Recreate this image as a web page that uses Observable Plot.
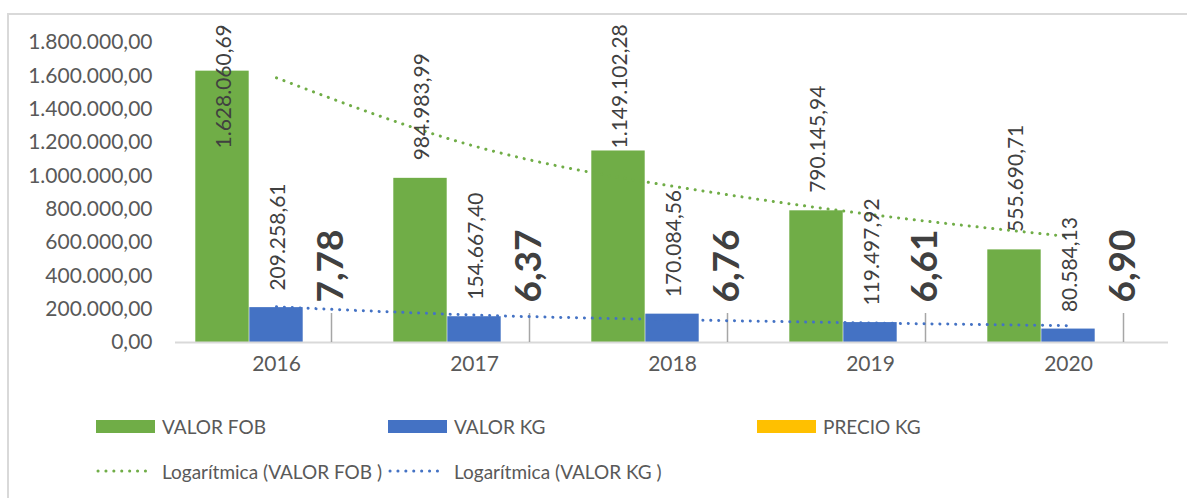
<!DOCTYPE html>
<html>
<head>
<meta charset="utf-8">
<script src="https://cdn.jsdelivr.net/npm/d3@7"></script>
<script src="https://cdn.jsdelivr.net/npm/@observablehq/plot@0.6"></script>
<style>
  html, body { margin: 0; padding: 0; background: #fff; }
  #wrap { position: relative; width: 1187px; height: 498px; overflow: hidden; font-family: Lato, "Open Sans", sans-serif; color: #595959; }
  #frame { position: absolute; left: 7px; top: 13px; width: 1300px; height: 600px; border: 2px solid #D9D9D9; box-sizing: border-box; pointer-events: none; }
  #chart { position: absolute; left: 0; top: 0; }
  #legend { position: absolute; left: 0; top: 395px; width: 1187px; height: 103px; font-size: 19px; }
  .item { position: absolute; display: flex; align-items: center; height: 24px; white-space: nowrap; }
  .sw { width: 59px; height: 13px; margin-right: 7px; }
  .ln { width: 59px; height: 6px; margin-right: 7px; display: block; }
</style>
</head>
<body>
<div id="wrap">
  <div id="chart"></div>
  <div id="legend"></div>
  <div id="frame"></div>
</div>
<script>
// ---- data ----
const years = ["2016", "2017", "2018", "2019", "2020"];
const valorFob = [1628060.69, 984983.99, 1149102.28, 790145.94, 555690.71];
const valorKg = [209258.61, 154667.40, 170084.56, 119497.92, 80584.13];
const precioKg = [7.78, 6.37, 6.76, 6.61, 6.90];
// logarithmic trend lines, read at each category
const fobTrend = [1588000, 1178000, 938000, 768000, 636000];
const kgTrend = [214000, 165000, 137000, 117000, 101000];
const yTicks = [0, 200000, 400000, 600000, 800000, 1000000, 1200000, 1400000, 1600000, 1800000];
const seriesNames = ["VALOR FOB", "VALOR KG", "PRECIO KG"];
const trendNames = ["Logarítmica (VALOR FOB )", "Logarítmica (VALOR KG )"];

const GREEN = "#70AD47", BLUE = "#4472C4", YELLOW = "#FFC000";
const locale = d3.formatLocale({decimal: ",", thousands: ".", grouping: [3], currency: ["", ""]});
const fmt = locale.format(",.2f");

const data = years.map((year, i) => ({
  year, fob: valorFob[i], kg: valorKg[i], price: precioKg[i], fobT: fobTrend[i], kgT: kgTrend[i]
}));

const W = 1187, H = 395, mL = 175, mR = 19;
const bw = (W - mL - mR) / years.length;
const barW = 54;
const OFF_FOB = -54, OFF_KG = 0, OFF_PRICE = 55;
const inset = o => ({insetLeft: bw / 2 + o - barW / 2, insetRight: bw / 2 - o - barW / 2});
const FOB_LABEL_MAX = 1056000; // labels pushed down to stay inside chart

const chart = Plot.plot({
  width: W, height: H,
  marginLeft: mL, marginRight: mR, marginTop: 42, marginBottom: 53,
  style: {fontFamily: "Lato, 'Open Sans', sans-serif", fontSize: "21px", color: "#595959", background: "transparent", overflow: "visible"},
  x: {domain: years, padding: 0, label: null, tickSize: 0, tickPadding: 14},
  y: {domain: [0, 1800000], ticks: yTicks, tickFormat: fmt, tickSize: 0, tickPadding: 23, label: null},
  marks: [
    Plot.barY(data, {x: "year", y: "fob", fill: GREEN, ...inset(OFF_FOB)}),
    Plot.barY(data, {x: "year", y: "kg", fill: BLUE, ...inset(OFF_KG)}),
    Plot.barY(data, {x: "year", y: "price", fill: YELLOW, ...inset(OFF_PRICE)}),
    Plot.ruleY([0], {stroke: "#D9D9D9", strokeWidth: 2}),
    Plot.ruleX(data, {x: "year", y1: "price", y2: "price", dx: OFF_PRICE, insetTop: -29, stroke: "#A6A6A6", strokeWidth: 1.5}),
    Plot.line(data, {x: "year", y: "fobT", stroke: GREEN, strokeWidth: 3, strokeDasharray: "0.1 7.8", strokeLinecap: "round", curve: "natural"}),
    Plot.line(data, {x: "year", y: "kgT", stroke: BLUE, strokeWidth: 3, strokeDasharray: "0.1 7.8", strokeLinecap: "round", curve: "natural"}),
    Plot.text(data, {x: "year", y: d => Math.min(d.fob, FOB_LABEL_MAX), text: d => fmt(d.fob), rotate: -90, textAnchor: "start", dx: OFF_FOB + 2, dy: -18, fill: "#404040", fontSize: 21}),
    Plot.text(data, {x: "year", y: "kg", text: d => fmt(d.kg), rotate: -90, textAnchor: "start", dx: OFF_KG + 2, dy: -17, fill: "#404040", fontSize: 21}),
    Plot.text(data, {x: "year", y: "price", text: d => fmt(d.price), rotate: -90, textAnchor: "start", dx: OFF_PRICE, dy: -40, fill: "#404040", fontSize: 37, fontWeight: "bold"})
  ]
});
document.getElementById("chart").appendChild(chart);

// ---- legend ----
const legend = document.getElementById("legend");
const row1 = [[seriesNames[0], GREEN, 96], [seriesNames[1], BLUE, 388], [seriesNames[2], YELLOW, 757]];
row1.forEach(([name, color, x]) => {
  const it = document.createElement("div");
  it.className = "item";
  it.style.left = x + "px"; it.style.top = (426 - 395 - 12) + "px";
  it.innerHTML = `<span class="sw" style="background:${color}"></span><span>${name}</span>`;
  legend.appendChild(it);
});
const row2 = [[trendNames[0], GREEN, 96], [trendNames[1], BLUE, 388]];
row2.forEach(([name, color, x]) => {
  const it = document.createElement("div");
  it.className = "item";
  it.style.left = x + "px"; it.style.top = (471 - 395 - 12) + "px";
  it.innerHTML = `<svg class="ln" width="59" height="6"><line x1="2" x2="57" y1="3" y2="3" stroke="${color}" stroke-width="3" stroke-linecap="round" stroke-dasharray="0.1 7.8"/></svg><span>${name}</span>`;
  legend.appendChild(it);
});
</script>
</body>
</html>
